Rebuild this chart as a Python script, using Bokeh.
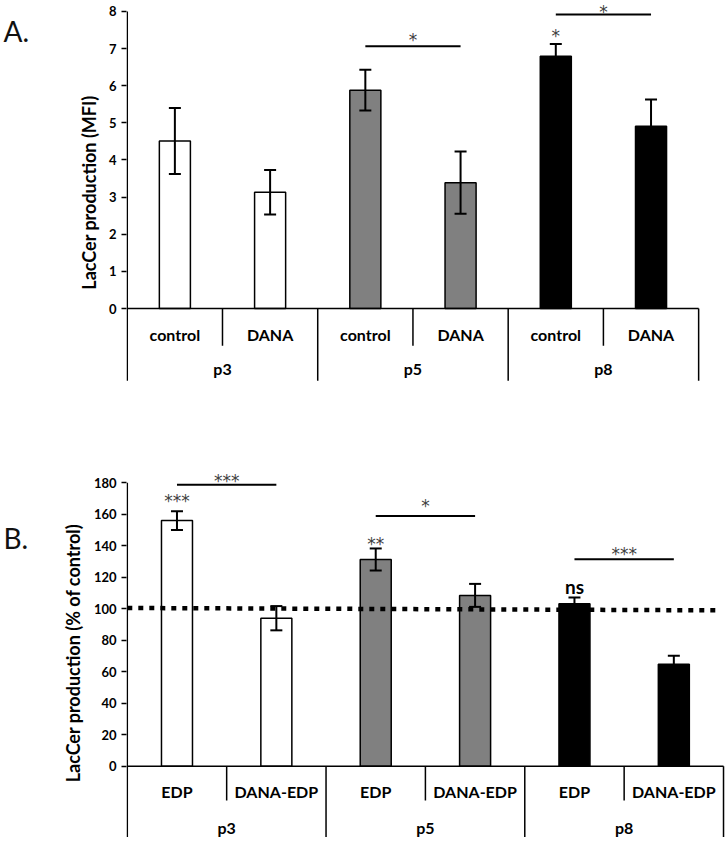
from bokeh.plotting import figure
from bokeh.layouts import column, row
from bokeh.models import ColumnDataSource, Whisker, TeeHead, FixedTicker, Range1d
from bokeh.core.properties import value
from bokeh.embed import file_html
from bokeh.resources import INLINE

# ---------------- data ----------------
passages = ["p3", "p5", "p8"]
conds_a = ["control", "DANA"]
conds_b = ["EDP", "DANA-EDP"]

mfi = [4.51, 3.13, 5.88, 3.39, 6.79, 4.91]
mfi_err = [0.89, 0.60, 0.55, 0.84, 0.33, 0.72]

pct = [156.0, 94.0, 131.3, 108.5, 103.2, 64.8]
pct_err = [6.0, 7.7, 7.0, 7.3, 4.0, 5.3]

bar_colors = ["white", "white", "#808080", "#808080", "black", "black"]

yticks_a = [0, 1, 2, 3, 4, 5, 6, 7, 8]
yticks_b = [0, 20, 40, 60, 80, 100, 120, 140, 160, 180]

# significance brackets: from bar, to bar, bracket height, label, label centre height
sig_a_from = [2, 4]
sig_a_to = [3, 5]
sig_a_y = [7.06, 7.92]
sig_a_text = ["*", "*"]
sig_a_text_y = [7.35, 8.09]
# marks above single bars
mark_a_idx = [4]
mark_a_text = ["*"]
mark_a_y = [7.44]

sig_b_from = [0, 2, 4]
sig_b_to = [1, 3, 5]
sig_b_y = [178.8, 159.0, 131.5]
sig_b_text = ["***", "*", "***"]
sig_b_text_y = [183.7, 167.7, 137.4]
mark_b_idx = [0, 2]
mark_b_text = ["***", "**"]
mark_b_y = [170.9, 143.8]
ns_idx = [4]
ns_text = ["ns"]
ns_y = [114.1]

# dotted 100 % reference line (x in bar-slot units, y in %)
ref_x = [0, 5.94]
ref_y = [100.5, 99.0]

FONT = "Lato"
STAR_FONT = "DejaVu Sans"
LETTER_W = 34


def letter_panel(letter, height, center_y):
    f = figure(width=LETTER_W, height=height, output_backend="svg", toolbar_location=None,
               x_range=Range1d(0, LETTER_W), y_range=Range1d(height, 0),
               x_axis_type=None, y_axis_type=None, title=None, min_border=0)
    f.outline_line_color = None
    f.grid.visible = False
    f.text(x=[3], y=[center_y], text=[letter], text_align="left",
           text_baseline="middle", text_font=value(FONT), text_font_size="28px",
           text_color="#111111")
    return f


def make_panel(values, errs, conds, yticks, yrange, xend, grp_div_end, sub_div_end,
               cond_label_y, group_label_y, height, border_top, border_bottom,
               border_right, bar_width, ylabel, label_standoff):
    n_cond = len(conds)
    n = len(values)
    centers = [i + 0.5 for i in range(n)]
    p = figure(width=727 - LETTER_W, height=height, output_backend="svg",
               toolbar_location=None,
               x_range=Range1d(-0.008, xend), y_range=Range1d(*yrange),
               x_axis_type=None, title=None,
               min_border_left=126 - LETTER_W, min_border_right=border_right,
               min_border_top=border_top, min_border_bottom=border_bottom)
    p.outline_line_color = None
    p.ygrid.visible = False

    ax = p.yaxis[0]
    ax.ticker = FixedTicker(ticks=yticks)
    ax.bounds = (yticks[0], yticks[-1])
    ax.axis_line_color = None
    ax.major_tick_line_width = 1.5
    ax.major_tick_line_color = "black"
    ax.major_tick_in = 0
    ax.major_tick_out = 5
    ax.minor_tick_line_color = None
    ax.major_label_standoff = 5
    ax.major_label_text_font = FONT
    ax.major_label_text_font_style = "bold"
    ax.major_label_text_font_size = "13px"
    ax.major_label_text_color = "black"
    ax.axis_label = ylabel
    ax.axis_label_standoff = label_standoff
    ax.axis_label_text_font = FONT
    ax.axis_label_text_font_style = "bold"
    ax.axis_label_text_font_size = "18px"
    ax.axis_label_text_color = "black"

    src = ColumnDataSource(dict(x=centers, top=values, color=bar_colors,
                                upper=[v + e for v, e in zip(values, errs)],
                                lower=[v - e for v, e in zip(values, errs)]))
    p.vbar(x="x", top="top", bottom=0, width=bar_width, fill_color="color",
           line_color="black", line_width=1.5, source=src)

    # value axis line (extends down as first group divider)
    p.segment(x0=[0], y0=[grp_div_end], x1=[0], y1=[yticks[-1]], line_color="black",
              line_width=1.5)
    # category axis baseline
    p.segment(x0=[0], y0=[0], x1=[n], y1=[0], line_color="black", line_width=1.5)
    # category dividers
    sub_x = [i for i in range(1, n + 1) if i % n_cond != 0]
    grp_x = [i for i in range(n_cond, n + 1, n_cond)]
    p.segment(x0=sub_x, y0=[0] * len(sub_x), x1=sub_x, y1=[sub_div_end] * len(sub_x),
              line_color="black", line_width=1.5)
    p.segment(x0=grp_x, y0=[0] * len(grp_x), x1=grp_x, y1=[grp_div_end] * len(grp_x),
              line_color="black", line_width=1.5)

    # category labels
    p.text(x=centers, y=[cond_label_y] * n, text=conds * len(passages),
           text_align="center", text_baseline="middle", text_font=value(FONT),
           text_font_style="bold", text_font_size="16px", text_color="black")
    gcenters = [i * n_cond + n_cond / 2 for i in range(len(passages))]
    p.text(x=gcenters, y=[group_label_y] * len(passages), text=passages,
           text_align="center", text_baseline="middle", text_font=value(FONT),
           text_font_style="bold", text_font_size="16px", text_color="black")

    p.add_layout(Whisker(source=src, base="x", upper="upper", lower="lower",
                         line_color="black", line_width=2, level="annotation",
                         upper_head=TeeHead(size=12, line_width=2, line_color="black"),
                         lower_head=TeeHead(size=12, line_width=2, line_color="black")))
    return p, centers


def stars(p, xs, ys, texts):
    p.text(x=xs, y=ys, text=texts, text_align="center", text_baseline="middle",
           text_font=value(STAR_FONT), text_font_size="17px", text_color="#404040",
           y_offset=4)


def add_sig(p, centers, f, t, ys, texts, texty):
    p.segment(x0=[centers[i] for i in f], y0=ys, x1=[centers[i] for i in t], y1=ys,
              line_color="black", line_width=2)
    stars(p, [(centers[a] + centers[b]) / 2 for a, b in zip(f, t)], texty, texts)


def add_marks(p, centers, idx, texts, ys):
    stars(p, [centers[i] for i in idx], ys, texts)


pa, ca = make_panel(mfi, mfi_err, conds_a, yticks_a, (-1.99, 8.24), 6.03, -1.94, -1.0,
                    -0.70, -1.62, 410, 2, 28, 26, 0.326,
                    "LacCer production (MFI)", 6)
add_sig(pa, ca, sig_a_from, sig_a_to, sig_a_y, sig_a_text, sig_a_text_y)
add_marks(pa, ca, mark_a_idx, mark_a_text, mark_a_y)

pb, cb = make_panel(pct, pct_err, conds_b, yticks_b, (-47.2, 191.0), 6.03, -44.9, -21.8,
                    -16.1, -38.9, 432, 55, 2, 1, 0.312,
                    "LacCer production (% of control)", 7)
pb.line(x=ref_x, y=ref_y, line_color="black", line_width=4.5, line_dash="5 6",
        line_cap="butt")
add_sig(pb, cb, sig_b_from, sig_b_to, sig_b_y, sig_b_text, sig_b_text_y)
add_marks(pb, cb, mark_b_idx, mark_b_text, mark_b_y)
pb.text(x=[cb[i] for i in ns_idx], y=ns_y, text=ns_text, text_align="center",
        text_baseline="middle", text_font=value(FONT), text_font_style="bold",
        text_font_size="19px", text_color="black")

la = letter_panel("A.", 410, 31)
lb = letter_panel("B.", 432, 493 - 410)

layout = column(row(la, pa), row(lb, pb))
open("out.html", "w").write(file_html(layout, INLINE))
